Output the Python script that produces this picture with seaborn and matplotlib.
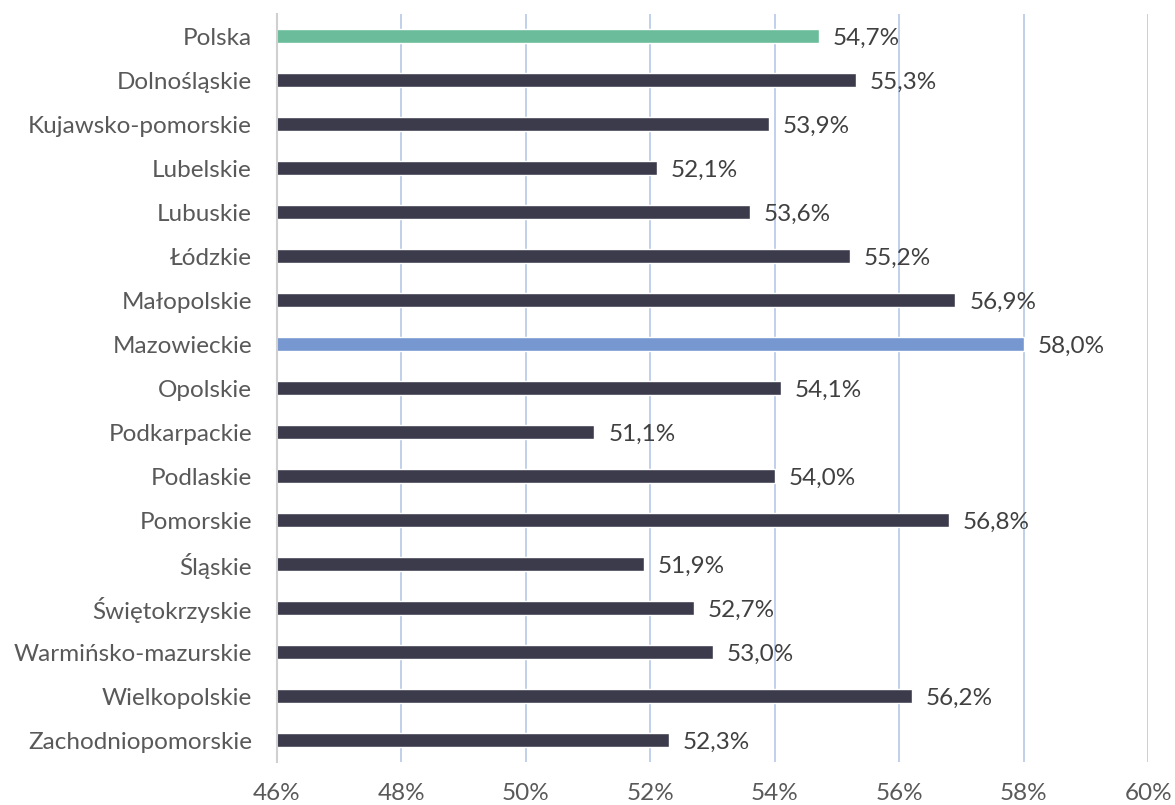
import matplotlib
matplotlib.use("Agg")
import matplotlib.pyplot as plt
import seaborn as sns

regions = ["Polska", "Dolnośląskie", "Kujawsko-pomorskie", "Lubelskie", "Lubuskie",
           "Łódzkie", "Małopolskie", "Mazowieckie", "Opolskie", "Podkarpackie",
           "Podlaskie", "Pomorskie", "Śląskie", "Świętokrzyskie",
           "Warmińsko-mazurskie", "Wielkopolskie", "Zachodniopomorskie"]
values = [54.7, 55.3, 53.9, 52.1, 53.6, 55.2, 56.9, 58.0, 54.1, 51.1,
          54.0, 56.8, 51.9, 52.7, 53.0, 56.2, 52.3]
ticks = [46, 48, 50, 52, 54, 56, 58, 60]

dark = "#3c3b4c"
colors = {r: dark for r in regions}
colors["Polska"] = "#6bbc9a"
colors["Mazowieckie"] = "#7697d0"

sns.set_style("white")
plt.rcParams["font.family"] = ["Lato", "DejaVu Sans"]

fig = plt.figure(figsize=(11.75, 8.05), dpi=100)
ax = fig.add_axes([0.2357, 0.0534, 0.7417, 0.9292])

sns.barplot(x=values, y=regions, hue=regions, palette=colors, orient="h",
            width=0.32, saturation=1, legend=False, ax=ax, zorder=3)

ax.set_xlim(46, 60)
ax.set_xticks(ticks)
ax.set_xticklabels([f"{t}%" for t in ticks], fontsize=17.5, color="#595959")
ax.tick_params(axis="x", length=0, pad=15)
ax.tick_params(axis="y", length=0, pad=18, labelsize=17.5, labelcolor="#595959")
ax.set_xlabel("")
ax.set_ylabel("")
ax.set_ylim(len(regions) - 0.5, -0.5)

ax.grid(axis="x", color="#bccde9", linewidth=1.3, zorder=0)
for s in ["top", "right", "bottom"]:
    ax.spines[s].set_visible(False)
ax.spines["left"].set_color("#d0d0d0")
ax.spines["left"].set_linewidth(1.5)
ax.spines["left"].set_zorder(4)

for i, v in enumerate(values):
    ax.annotate(f"{v:.1f}%".replace(".", ","), xy=(v, i), xytext=(10, -2),
                textcoords="offset points", va="center", ha="left",
                fontsize=17.5, color="#404040")

fig.savefig("out.png", dpi=100)
